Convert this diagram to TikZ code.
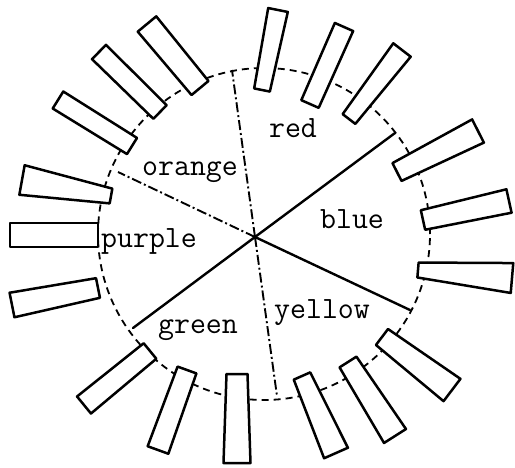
\documentclass[tikz,border=0pt]{standalone}
\usepackage{fontspec}
\usetikzlibrary{calc}
\begin{document}
\begin{tikzpicture}[x=1pt,y=-1pt,
  tab/.style={draw=black, fill=white, line width=2.5pt, line join=round},
  rim/.style={draw=black, line width=1.8pt, dash pattern=on 7pt off 5pt},
  spoke/.style={draw=black, line width=2.4pt, line cap=round},
  dspoke/.style={draw=black, line width=1.9pt, dash pattern=on 10pt off 3pt on 2pt off 3pt},
  lbl/.style={font=\ttfamily\fontsize{31}{34}\selectfont, inner sep=0pt, anchor=base}
]
\useasboundingbox (0,0) rectangle (515,467);
\fill[white] (0,0) rectangle (515,467);
% rim of the wheel
\coordinate (c) at (264,234);
\draw[rim] (c) circle[radius=166pt];
% hub and spoke ends
\coordinate (h) at (255,237);
\coordinate (sT) at (232,70);
\coordinate (sUR) at (395,133);
\coordinate (sUL) at (118,172);
\coordinate (sLL) at (133,328);
\coordinate (sLR) at (410,310);
\coordinate (sB) at (277,396);
\draw[dspoke] (h) -- (sT);
\draw[spoke] (h) -- (sUR);
\draw[dspoke] (h) -- (sUL);
\draw[spoke] (h) -- (sLL);
\draw[spoke] (h) -- (sLR);
\draw[dspoke] (h) -- (sB);
% tabs: name / inner x / inner y / outer x / outer y / inner half width / outer half width
\foreach \n/\ix/\iy/\ox/\oy/\wi/\wo in {
  A/200/88/147/24/11/12,
  B/160/112/99/52/9.5/10,
  C/132/146/58/100/9.5/10,
  D/111/196/22/180/7.5/15,
  E/98/235/10/235/12/12,
  F/98/288/12/305/10/12.5,
  G/150/351/84/405/10/11,
  H/187/370/158/450/10/11,
  I/237/374/237/463/10.5/13.5,
  J/302/376/336/453/9/13,
  K/348/362/395/436/10/13,
  L/382/337/452/390/10/14,
  M/418/270/512/278/7.5/15,
  N/423/220/509/201/10/12,
  O/397/172/478/131/10/13,
  P/349/119/402/50/8/11,
  Q/310/104/344/27/9.5/10,
  R/262/90/278/10/8/10}{
  \coordinate (\n i) at (\ix,\iy);
  \coordinate (\n o) at (\ox,\oy);
  \draw[tab] ($(\n i)!\wi pt!90:(\n o)$) -- ($(\n o)!\wo pt!-90:(\n i)$)
    -- ($(\n o)!\wo pt!90:(\n i)$) -- ($(\n i)!\wi pt!-90:(\n o)$) -- cycle;
}
% labels
\node[lbl] (red) at (293,137) {red};
\node[lbl] (orange) at (190,175) {orange};
\node[lbl] (blue) at (352,228) {blue};
\node[lbl] (purple) at (149,247) {purple};
\node[lbl] (green) at (198,333) {green};
\node[lbl] (yellow) at (322,318) {yellow};
\end{tikzpicture}
\end{document}
